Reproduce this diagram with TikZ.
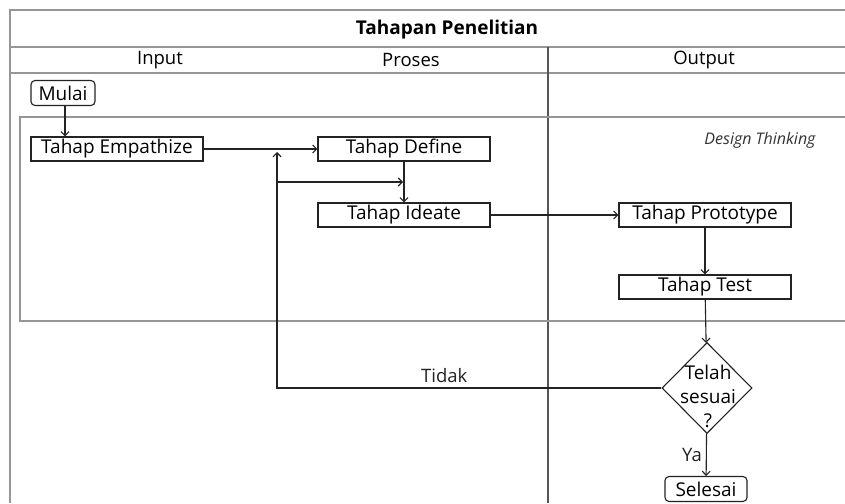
\documentclass[tikz,border=0pt]{standalone}
\usepackage{fontspec}
\setmainfont{Open Sans}
\usetikzlibrary{arrows.meta,positioning,shapes.geometric}
\definecolor{FrameG}{RGB}{150,150,150}
\definecolor{LaneG}{RGB}{85,85,85}
\definecolor{InkC}{RGB}{35,35,35}
\tikzset{
  stage/.style={rectangle,draw=InkC,line width=1.3pt,minimum width=172pt,
                minimum height=24pt,inner sep=0pt,font=\fontsize{19}{22}\selectfont},
  term/.style={rectangle,rounded corners=4pt,draw=InkC,line width=1.1pt,
               minimum height=25pt,inner xsep=2pt,inner ysep=0pt,
               font=\fontsize{19}{22}\selectfont},
  decide/.style={diamond,draw=InkC,line width=1.1pt,minimum width=90pt,
                 minimum height=91pt,inner sep=0pt},
  lbl/.style={font=\fontsize{18.5}{22}\selectfont,inner sep=0pt},
  flow/.style={-{Straight Barb[length=4pt,width=8pt]},line width=1.1pt,InkC},
  lane/.style={FrameG,line width=1.2pt},
}

\begin{document}
\begin{tikzpicture}[x=1pt,y=-1pt]
  \useasboundingbox (0,0) rectangle (845,503);

  % swimlane frame
  \draw[lane] (10,503) -- (10,10) -- (845,10);
  \draw[lane] (10,47) -- (845,47);
  \draw[lane] (10,73) -- (845,73);
  \draw[LaneG,line width=1.3pt] (548,47) -- (548,503);
  \draw[lane] (845,117) -- (20,117) -- (20,321) -- (845,321);

  \node[font=\fontsize{19}{22}\selectfont\bfseries] (title) at (447,30) {Tahapan Penelitian};
  \node[lbl] (hin)  at (160,60) {Input};
  \node[lbl] (hpro) at (411,60) {Proses};
  \node[lbl] (hout) at (704,60) {Output};
  \node[font=\fontsize{16}{19}\selectfont\itshape,text=black!80] (dt) at (760,140) {Design Thinking};

  % stages
  \node[term,minimum width=64pt] (mulai) at (63,93) {Mulai};
  \node[stage] (emp)  at (117,149) {Tahap Empathize};
  \node[stage] (def)  at (404,149) {Tahap Define};
  \node[stage] (ide)  at (404,215) {Tahap Ideate};
  \node[stage] (pro)  at (705,215) {Tahap Prototype};
  \node[stage] (tst)  at (705,287) {Tahap Test};
  \node[decide] (chk) at (707,388) {};
  \node[align=center,font=\fontsize{19}{24}\selectfont] (chktxt) at (708,396) {Telah\\sesuai\\?};
  \node[term,minimum width=82pt] (selesai) at (706,489) {Selesai};

  \coordinate (fb)    at (277,388);
  \coordinate (fbtop) at (277,152);
  \coordinate (fbmid) at (277,182);
  \coordinate (join)  at (403,182);

  \draw[flow] (mulai.south -| 65,0) -- (emp.north -| 65,0);
  \draw[flow] (emp) -- (def);
  \draw[flow] (def) -- (ide);
  \draw[flow] (ide) -- (pro);
  \draw[flow] (pro) -- (tst);
  \draw[flow] (tst) -- (chk);
  \draw[flow] (chk) -- node[lbl,left=4pt] {Ya} (selesai);
  \draw[flow] (chk.west) -- node[lbl,above=5pt,pos=0.565] {Tidak} (fb) -- (fbtop);
  \draw[flow] (fbmid) -- (join);

\end{tikzpicture}
\end{document}
